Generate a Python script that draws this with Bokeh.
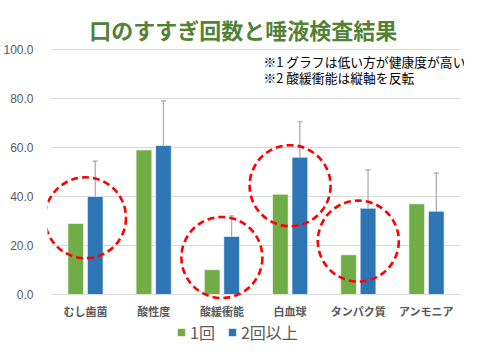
from bokeh.plotting import figure
from bokeh.models import ColumnDataSource, Range1d, NumeralTickFormatter, Label, Legend, LegendItem
from bokeh.core.properties import value
from bokeh.transform import dodge
from bokeh.embed import file_html
from bokeh.resources import INLINE

categories = ["むし歯菌", "酸性度", "酸緩衝能", "白血球", "タンパク質", "アンモニア"]
once = [29.0, 59.0, 10.1, 40.9, 16.2, 37.0]
twice = [40.0, 60.8, 23.7, 56.0, 35.2, 34.0]
twice_err_top = [54.4, 79.0, 32.1, 70.5, 50.9, 49.5]
circle_cats = ["むし歯菌", "酸緩衝能", "白血球", "タンパク質"]
circle_y = [31.3, 15.1, 44.4, 21.8]
y_ticks = [0, 20, 40, 60, 80, 100]

JP = "Noto Sans CJK JP"
GREEN = "#70AD47"
BLUE = "#2E75B6"

src = ColumnDataSource(dict(cat=categories, once=once, twice=twice, top=twice_err_top,
                            ly=[-6.6] * len(categories)))
csrc = ColumnDataSource(dict(cat=circle_cats, y=circle_y))
gsrc = ColumnDataSource(dict(x0=[0] * len(y_ticks), x1=[len(categories)] * len(y_ticks), y=y_ticks))

p = figure(x_range=categories, y_range=Range1d(-20.82, 120.0), width=464, height=345,
           output_backend="svg", toolbar_location=None,
           min_border_left=36, min_border_right=0, min_border_top=0, min_border_bottom=0)
p.x_range.range_padding = 0.0571
p.x_range.range_padding_units = "absolute"
p.outline_line_color = None
p.background_fill_color = "white"
p.xaxis.visible = False
p.xgrid.grid_line_color = None
p.ygrid.grid_line_color = None

p.segment(x0="x0", x1="x1", y0="y", y1="y", source=gsrc, line_color="#D9D9D9", line_width=1)

r1 = p.vbar(x=dodge("cat", -0.143, range=p.x_range), top="once", width=0.23, source=src,
            fill_color=GREEN, line_color="white", line_alpha=0.6, line_width=1)
r2 = p.vbar(x=dodge("cat", 0.143, range=p.x_range), top="twice", width=0.23, source=src,
            fill_color=BLUE, line_color="white", line_alpha=0.6, line_width=1)
p.segment(x0=dodge("cat", 0.143, range=p.x_range), y0="twice",
          x1=dodge("cat", 0.143, range=p.x_range), y1="top", source=src,
          line_color="#A6A6A6", line_width=1.2)
p.scatter(x=dodge("cat", 0.143, range=p.x_range), y="top", source=src, marker="dash",
          size=5, line_color="#A6A6A6", line_width=1.2)

p.scatter(x="cat", y="y", source=csrc, marker="circle", size=81, fill_color=None,
          line_color="#FF0000", line_width=2.6, line_dash="7 4")

p.text(x="cat", y="ly", text="cat", source=src, text_font=value(JP), text_font_style="bold",
       text_font_size="11px", text_color="#595959", text_align="center", text_baseline="middle")

p.yaxis.ticker = y_ticks
p.yaxis.formatter = NumeralTickFormatter(format="0.0")
p.yaxis.axis_line_color = None
p.yaxis.major_tick_line_color = None
p.yaxis.minor_tick_line_color = None
p.yaxis.major_label_text_font = "Liberation Sans"
p.yaxis.major_label_text_font_size = "12px"
p.yaxis.major_label_text_color = "#595959"
p.yaxis.major_label_standoff = 8

p.add_layout(Label(x=2.814, y=108.4, text="口のすすぎ回数と唾液検査結果", text_font=JP,
                   text_font_style="bold", text_font_size="22px", text_color="#538135",
                   text_align="center", text_baseline="middle"))
p.add_layout(Label(x=3.11, y=95.3, text="※1 グラフは低い方が健康度が高い", text_font=JP,
                   text_font_size="12.8px", text_color="#000000", text_baseline="middle"))
p.add_layout(Label(x=3.11, y=88.4, text="※2 酸緩衝能は縦軸を反転", text_font=JP,
                   text_font_size="12.8px", text_color="#000000", text_baseline="middle"))

legend = Legend(items=[LegendItem(label="1回", renderers=[r1]), LegendItem(label="2回以上", renderers=[r2])],
                orientation="horizontal", location=(129, 1), glyph_width=10, glyph_height=10,
                label_standoff=4, spacing=12, padding=0, margin=0, border_line_color=None,
                background_fill_alpha=0, label_text_font=JP, label_text_font_size="16px",
                label_text_color="#595959")
p.add_layout(legend, "center")

open("out.html", "w").write(file_html(p, INLINE))
